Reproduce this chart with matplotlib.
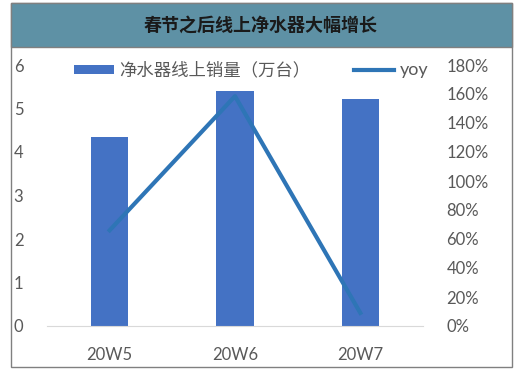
import matplotlib.pyplot as plt
from matplotlib.patches import Rectangle
from matplotlib.ticker import FuncFormatter

plt.rcParams['font.family'] = ['Lato', 'Noto Sans CJK SC', 'DejaVu Sans']

weeks = ['20W5', '20W6', '20W7']
sales = [4.34, 5.40, 5.22]          # 万台
yoy = [0.66, 1.585, 0.09]

title = '春节之后线上净水器大幅增长'
bar_label = '净水器线上销量（万台）'
line_label = 'yoy'

W, H = 522, 372
fig = plt.figure(figsize=(W / 100, H / 100), dpi=100)

# outer frame and title band
fig.patches.append(Rectangle((11 / W, 1 - 367 / H), 501 / W, 364 / H,
                             transform=fig.transFigure, fill=False,
                             edgecolor='#808080', linewidth=1))
fig.patches.append(Rectangle((11 / W, 1 - 47 / H), 501 / W, 44 / H,
                             transform=fig.transFigure, facecolor='#5E91A5',
                             edgecolor='#808080', linewidth=1))
fig.text(261 / W, 1 - 25 / H, title, ha='center', va='center',
         fontsize=13, fontweight='bold', color='#1a1a1a',
         family=['Noto Sans CJK SC', 'DejaVu Sans'])

ax = fig.add_axes([47 / W, 1 - 326 / H, 376 / W, 261 / H])
bars = ax.bar(weeks, sales, width=0.3, color='#4472C4', zorder=2)
ax.set_ylim(0, 6)
ax.set_xlim(-0.5, 2.5)
ax.set_yticks(range(0, 7))

ax2 = ax.twinx()
line, = ax2.plot(weeks, yoy, color='#2E75B6', linewidth=3)
ax2.set_ylim(0, 1.8)
ax2.set_yticks([i * 0.2 for i in range(10)])
ax2.yaxis.set_major_formatter(FuncFormatter(lambda v, p: f'{round(v * 100)}%'))

for a in (ax, ax2):
    for s in ('top', 'left', 'right', 'bottom'):
        a.spines[s].set_visible(False)
    a.tick_params(length=0, labelsize=12, labelcolor='#595959')
ax.spines['bottom'].set_visible(True)
ax.spines['bottom'].set_color('#D9D9D9')
ax.tick_params(axis='y', pad=17)
ax.tick_params(axis='x', pad=15)
ax2.tick_params(axis='y', pad=17)

leg = ax2.legend([bars, line], [bar_label, line_label], ncol=2, frameon=False,
                 loc='center', bbox_to_anchor=(251 / W, 1 - 70 / H),
                 bbox_transform=fig.transFigure, fontsize=12,
                 handlelength=2.4, handleheight=0.45, handletextpad=0.35,
                 columnspacing=2.6, borderpad=0)
texts = leg.get_texts()
texts[0].set_color('#595959')
texts[0].set_family(['Noto Sans CJK SC', 'DejaVu Sans'])
texts[0].set_fontsize(12.5)
texts[1].set_color('#595959')
texts[1].set_fontsize(13)

fig.savefig('out.png', dpi=100)
